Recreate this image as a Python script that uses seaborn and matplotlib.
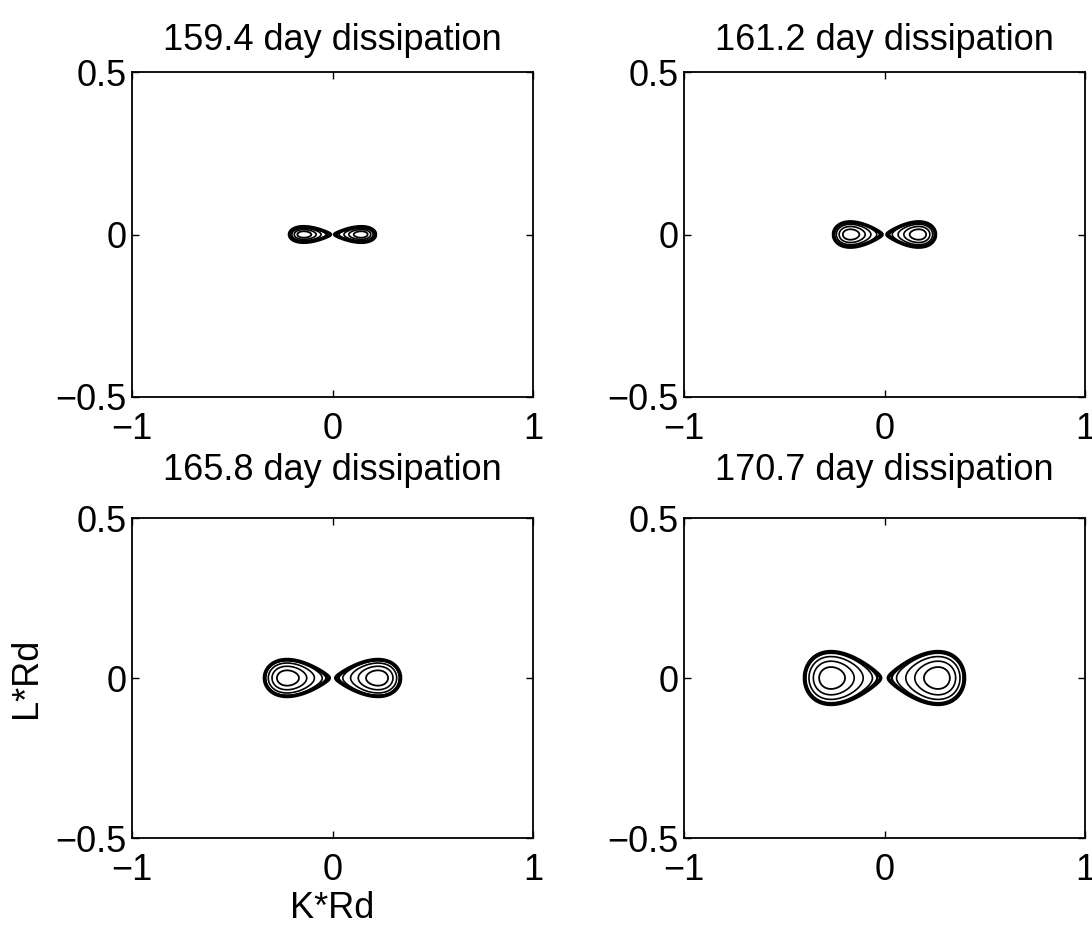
import numpy as np
import matplotlib
matplotlib.use("Agg")
import matplotlib.pyplot as plt
import seaborn as sns

# ---- data ----
titles = ["159.4 day dissipation", "161.2 day dissipation",
          "165.8 day dissipation", "170.7 day dissipation"]
lobe_kmax = [0.215, 0.255, 0.34, 0.40]      # outer K*Rd extent of each lobe
lobe_halfwidth = [0.024, 0.039, 0.058, 0.083]  # outer L*Rd half height of lobe
contour_levels = [0.015, 0.05, 0.13, 0.35, 0.6, 0.83]
contour_widths = [2.6, 1.8, 1.2, 1.2, 1.2, 1.3]
xticks = [-1, 0, 1]
yticks = [-0.5, 0, 0.5]

sns.set_theme(style="ticks")
plt.rcParams["font.family"] = ["Liberation Sans", "DejaVu Sans"]
plt.rcParams["axes.unicode_minus"] = True
plt.rcParams["text.color"] = "black"
plt.rcParams["axes.labelcolor"] = "black"

fig = plt.figure(figsize=(10.92, 9.25), dpi=100)
W, H = 1092, 925
boxes = [(132, 72, 533, 397), (684, 72, 1085, 397),
         (132, 518, 533, 838), (684, 518, 1085, 838)]
title_pads = [16, 16, 27, 27]

k = np.linspace(-1, 1, 1601)
l = np.linspace(-0.5, 0.5, 801)
K, L = np.meshgrid(k, l)

for i, (x0, y0, x1, y1) in enumerate(boxes):
    ax = fig.add_axes([x0 / W, 1 - y1 / H, (x1 - x0) / W, (y1 - y0) / H])
    u = np.abs(K) / lobe_kmax[i]
    g = np.where(u < 1, 27.0 / 4.0 * u ** 2 * (1 - u), -1.0)
    F = g - (L / lobe_halfwidth[i]) ** 2
    F = np.where(u < 1, F, -1.0)
    ax.contour(K, L, F, levels=contour_levels, colors="black",
               linewidths=contour_widths)
    ax.set_xlim(-1, 1)
    ax.set_ylim(-0.5, 0.5)
    ax.set_xticks(xticks)
    ax.set_yticks(yticks)
    ax.set_xticklabels(["\u22121", "0", "1"])
    ax.set_yticklabels(["\u22120.5", "0", "0.5"])
    ax.tick_params(direction="in", length=5, width=1, top=True, right=True,
                   labelsize=26, colors="black")
    ax.tick_params(axis="x", pad=11)
    ax.tick_params(axis="y", pad=4)
    for s in ax.spines.values():
        s.set_linewidth(1.3)
        s.set_color("black")
    ax.set_title(titles[i], fontsize=26, pad=title_pads[i], color="black")
    if i == 2:
        ax.set_xlabel("K*Rd", fontsize=26, labelpad=2, color="black")
        ax.set_ylabel("L*Rd", fontsize=26, labelpad=8, color="black")

fig.savefig("out.png", dpi=100, facecolor="white")
